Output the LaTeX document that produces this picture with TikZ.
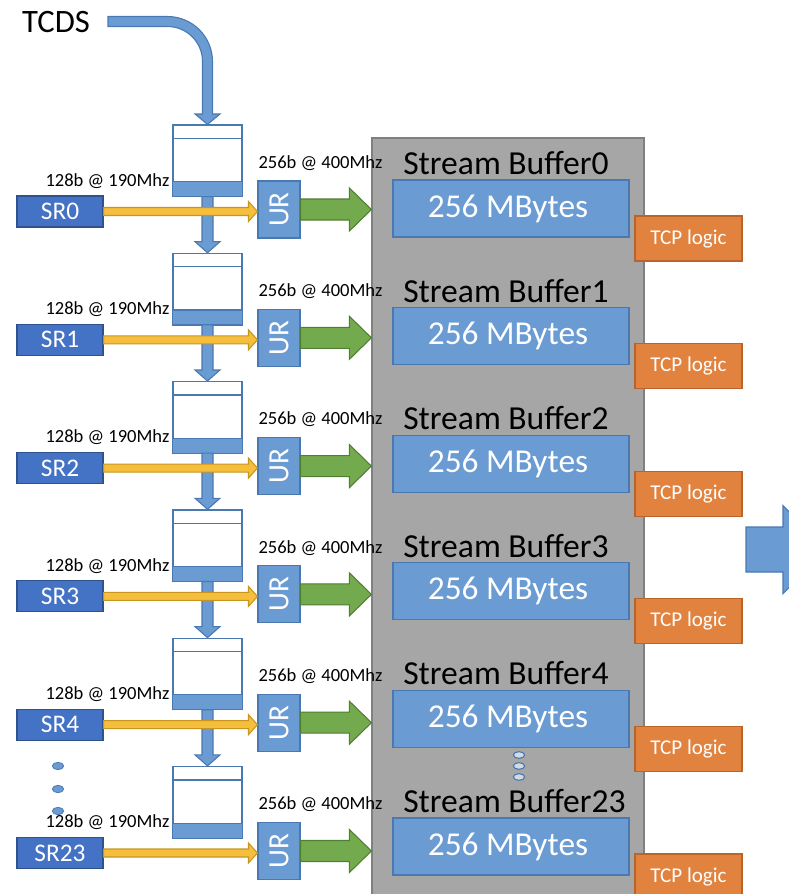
\documentclass[tikz,border=0pt]{standalone}
\usepackage{fontspec}
\setmainfont{Carlito}
\usetikzlibrary{calc,shapes.geometric}

\definecolor{blkfill}{HTML}{6A9BD2}
\definecolor{blkline}{HTML}{4A78B0}
\definecolor{srfill}{HTML}{4472C4}
\definecolor{srline}{HTML}{2F528F}
\definecolor{grayfill}{HTML}{A6A6A6}
\definecolor{grayline}{HTML}{808080}
\definecolor{orfill}{HTML}{E2823F}
\definecolor{orline}{HTML}{B8642A}
\definecolor{grfill}{HTML}{74AA4E}
\definecolor{grline}{HTML}{507E32}
\definecolor{yefill}{HTML}{F5BE3D}
\definecolor{yeline}{HTML}{C8961E}

% horizontal block arrow: style, start, end, half shaft, half head, head length
\newcommand\harrow[6]{%
  \draw[#1] ($(#2)+(0,-#4)$) -- ($(#3|-#2)+(-#6,-#4)$) -- ($(#3|-#2)+(-#6,-#5)$)
    -- (#3|-#2) -- ($(#3|-#2)+(-#6,#5)$) -- ($(#3|-#2)+(-#6,#4)$) -- ($(#2)+(0,#4)$) -- cycle;}
% vertical block arrow (downwards): style, start, end, half shaft, half head, head length
\newcommand\varrow[6]{%
  \draw[#1] ($(#2)+(-#4,0)$) -- ($(#2|-#3)+(-#4,-#6)$) -- ($(#2|-#3)+(-#5,-#6)$)
    -- (#2|-#3) -- ($(#2|-#3)+(#5,-#6)$) -- ($(#2|-#3)+(#4,-#6)$) -- ($(#2)+(#4,0)$) -- cycle;}

\tikzset{
  px/.style={x=0.75pt,y=-0.75pt},
  blkarrow/.style={fill=blkfill,draw=blkline,line width=0.8pt,line join=miter},
  yearrow/.style={fill=yefill,draw=yeline,line width=0.8pt},
  grarrow/.style={fill=grfill,draw=grline,line width=0.8pt},
  srbox/.style={rectangle,fill=srfill,draw=srline,line width=0.8pt,inner sep=0pt,
    minimum width=64.5pt,minimum height=23.25pt,text=white,font=\fontsize{19}{22}\selectfont},
  fifobox/.style={rectangle,fill=white,draw=blkline,line width=0.9pt,inner sep=0pt,
    minimum width=51.75pt,minimum height=53.25pt},
  urbox/.style={rectangle,fill=blkfill,draw=blkline,line width=0.8pt,inner sep=0pt,
    minimum width=31.5pt,minimum height=42.75pt,text=white,font=\fontsize{22}{24}\selectfont},
  mbbox/.style={rectangle,fill=blkfill,draw=blkline,line width=0.9pt,inner sep=0pt,
    minimum width=177pt,minimum height=42.75pt,text=white,font=\fontsize{25}{28}\selectfont},
  tcpbox/.style={rectangle,fill=orfill,draw=orline,line width=0.9pt,inner sep=0pt,
    minimum width=80.25pt,minimum height=33.75pt,text=white,font=\fontsize{15.8}{18}\selectfont},
  ratelabel/.style={inner sep=0pt,font=\fontsize{13.9}{16}\selectfont},
  sblabel/.style={inner sep=0pt,anchor=west,font=\fontsize{25.2}{28}\selectfont},
  bluedot/.style={ellipse,fill=blkfill,draw=blkline,line width=0.6pt,inner sep=0pt,
    minimum width=8.5pt,minimum height=5.5pt},
  graydot/.style={ellipse,fill=grayfill!60!blkfill!40,draw=blkline,line width=0.8pt,inner sep=0pt,
    minimum width=8.5pt,minimum height=5pt},
}

\begin{document}
\begin{tikzpicture}[px]
\useasboundingbox (0,0) rectangle (789,894);

% stream buffer block
\node[rectangle,fill=grayfill,draw=grayline,line width=0.9pt,inner sep=0pt,
  minimum width=204pt,minimum height=574.5pt] (sbox) at (508,521) {};

\node[inner sep=0pt,font=\fontsize{24.5}{27}\selectfont] (tcds) at (56,22) {TCDS};

% one row per stream
\foreach \i/\n in {0/0,1/1,2/2,3/3,4/4,5/23} {
  \pgfmathsetmacro\yl{128.3*\i}
  \pgfmathsetmacro\yr{127.6*\i}
  \node[fifobox] (fifo\i) at (207.5,{160.5+\yl}) {};
  \draw[blkline,line width=0.9pt] ($(fifo\i.north west)+(0,14)$) -- ($(fifo\i.north east)+(0,14)$);
  \draw[fill=blkfill,draw=blkline,line width=0.9pt] ($(fifo\i.south west)+(0,-15)$) rectangle (fifo\i.south east);
  \node[srbox] (sr\i) at (60,{211.5+\yl}) {SR\n};
  \node[ratelabel] (lin\i) at (107.5,{181+\yl}) {128b @ 190Mhz};
  \node[urbox] (ur\i) at (279,{209.5+\yl}) {\rotatebox{90}{UR}};
  \node[ratelabel] (lout\i) at (320.5,{163+\yl}) {256b @ 400Mhz};
  \node[sblabel] (sbl\i) at (403,{163+\yr}) {Stream Buffer\n};
  \node[mbbox] (mb\i) at (511,{208.5+\yr}) {\hspace*{-4.5pt}256 MBytes};
  \node[tcpbox] (tcp\i) at (688.5,{238.5+\yr}) {TCP logic};
}

% TCDS feed into the first FIFO
\coordinate (tcdsin) at (108,21.5);
\draw[blkarrow] ($(tcdsin)+(0,-5)$) -- (167.5,16.5) arc[start angle=270,end angle=360,radius=45]
  -- (212.5,114) -- (220,114) -- (fifo0.north) -- (195,114) -- (202.5,114) -- (202.5,61.5)
  arc[start angle=360,end angle=270,radius=35] -- ($(tcdsin)+(0,5)$) -- cycle;

% FIFO chain
\foreach \i/\j in {0/1,1/2,2/3,3/4,4/5} {
  \varrow{blkarrow}{fifo\i.south}{fifo\j.north}{5.5}{12.5}{11}
}

% links into the unpackers and the buffers
\foreach \i in {0,...,5} {
  \harrow{yearrow}{sr\i.east}{ur\i.west}{4}{10}{9}
  \harrow{grarrow}{ur\i.east}{sbox.west|-ur\i.east}{10.5}{21.5}{22}
}

% omitted rows
\node[bluedot] (ld1) at (58,766) {};
\node[bluedot] (ld2) at (58,789) {};
\node[bluedot] (ld3) at (58,811) {};
\node[graydot] (rd1) at (519,755) {};
\node[graydot] (rd2) at (519,766) {};
\node[graydot] (rd3) at (519,777) {};

% output
\coordinate (outS) at (746,549.5);
\coordinate (outE) at (827,549.5);
\harrow{blkarrow}{outS}{outE}{22.5}{44}{44}
\end{tikzpicture}
\end{document}
